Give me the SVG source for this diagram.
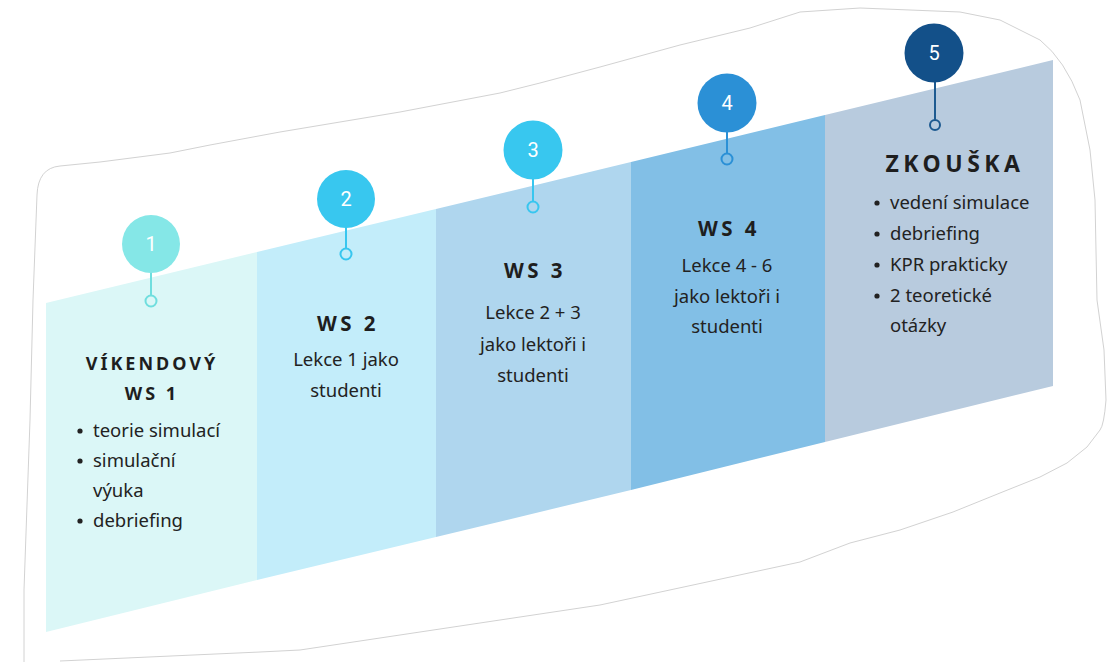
<svg xmlns="http://www.w3.org/2000/svg" width="1115" height="662" viewBox="0 0 1115 662">
<style>
.t{font-family:"Noto Sans","Liberation Sans",sans-serif;font-size:18.5px;fill:#222;}
.c{text-anchor:middle;}
.h{font-family:"Noto Sans","Liberation Sans",sans-serif;font-size:18px;font-weight:bold;letter-spacing:3px;fill:#1e1e1e;text-anchor:middle;}
.w{font-size:20.5px;letter-spacing:3.5px;}
.n{font-family:"Roboto","Liberation Sans",sans-serif;font-size:20px;fill:#fff;text-anchor:middle;}
.b{fill:#222;}
</style>
<rect width="1115" height="662" fill="#fff"/>
<path id="blob" d="M24,662 L24,590 L30,420 L33,300 L37,195 Q38,168 60,166 L100,162 L170,153 L210,145 L280,132 L400,112 L500,93 L540,83 L600,67 L680,45 L750,28 L800,12 L860,8 L960,12 L1000,20 L1040,40 Q1065,60 1080,100 L1090,150 L1095,200 L1097,300 L1104,350 L1106,400 Q1104,425 1100,430 L1087,447 L1067,463 L1040,477 L1000,493 L953,512 L900,530 L850,543 L800,562 L600,605 L300,650 L260,652 L60,661" fill="none" stroke="#d2d2d2" stroke-width="1"/>

<g id="node1">
<polygon points="46,303 257,252 257,580 46,632" fill="#dbf7f7"/>
<line x1="151" y1="270" x2="151" y2="296" stroke="#6fdede" stroke-width="2"/>
<circle cx="151" cy="244" r="29" fill="#85e7e7"/>
<circle cx="151" cy="301" r="5.5" fill="#dbf7f7" stroke="#6fdede" stroke-width="2"/>
<text class="n" x="151" y="251">1</text>
<text class="h" x="152" y="370">VÍKENDOVÝ</text>
<text class="h" x="152" y="400">WS 1</text>
<circle class="b" cx="80" cy="431" r="2.6"/>
<text class="t" x="93" y="437">teorie simulací</text>
<circle class="b" cx="80" cy="461" r="2.6"/>
<text class="t" x="93" y="467">simulační</text>
<text class="t" x="93" y="497">výuka</text>
<circle class="b" cx="80" cy="521" r="2.6"/>
<text class="t" x="93" y="527">debriefing</text>
</g>

<g id="node2">
<polygon points="257,252 436,209 436,537 257,580" fill="#c3edfa"/>
<line x1="346" y1="225" x2="346" y2="249" stroke="#38c6ef" stroke-width="2"/>
<circle cx="346" cy="199" r="29" fill="#38c7ef"/>
<circle cx="346" cy="254" r="5.5" fill="#c3edfa" stroke="#38c6ef" stroke-width="2"/>
<text class="n" x="346" y="206">2</text>
<text class="h w" x="348" y="331">WS 2</text>
<text class="t c" x="346" y="366">Lekce 1 jako</text>
<text class="t c" x="346" y="397">studenti</text>
</g>

<g id="node3">
<polygon points="436,209 631,162 631,490 436,537" fill="#afd6ee"/>
<line x1="533" y1="178" x2="533" y2="202" stroke="#38c6ef" stroke-width="2"/>
<circle cx="533" cy="150" r="29.5" fill="#38c7ef"/>
<circle cx="533" cy="207" r="5.5" fill="#afd6ee" stroke="#38c6ef" stroke-width="2"/>
<text class="n" x="533" y="157">3</text>
<text class="h w" x="535" y="278">WS 3</text>
<text class="t c" x="533" y="319">Lekce 2 + 3</text>
<text class="t c" x="533" y="351">jako lektoři i</text>
<text class="t c" x="533" y="382">studenti</text>
</g>

<g id="node4">
<polygon points="631,162 825,115 825,442 631,490" fill="#82bfe6"/>
<line x1="727" y1="131" x2="727" y2="154" stroke="#2b90d6" stroke-width="2"/>
<circle cx="727" cy="103" r="29.5" fill="#2b90d6"/>
<circle cx="727" cy="159" r="5.5" fill="#82bfe6" stroke="#2b90d6" stroke-width="2"/>
<text class="n" x="727" y="110">4</text>
<text class="h w" x="729" y="236">WS 4</text>
<text class="t c" x="727" y="272">Lekce 4 - 6</text>
<text class="t c" x="727" y="303">jako lektoři i</text>
<text class="t c" x="727" y="333">studenti</text>
</g>

<g id="node5">
<polygon points="825,115 1053,60 1053,386 825,442" fill="#b8cbde"/>
<line x1="935" y1="81" x2="935" y2="120" stroke="#1d5a90" stroke-width="2"/>
<circle cx="934" cy="53" r="29.5" fill="#135089"/>
<circle cx="935" cy="125" r="5" fill="#b8cbde" stroke="#1d5a90" stroke-width="2"/>
<text class="n" x="934" y="60">5</text>
<text class="h" x="955" y="172" style="font-size:23px;letter-spacing:4.5px">ZKOUŠKA</text>
<circle class="b" cx="877" cy="203" r="2.6"/>
<text class="t" x="890" y="209">vedení simulace</text>
<circle class="b" cx="877" cy="234" r="2.6"/>
<text class="t" x="890" y="240">debriefing</text>
<circle class="b" cx="877" cy="265" r="2.6"/>
<text class="t" x="890" y="271">KPR prakticky</text>
<circle class="b" cx="877" cy="296" r="2.6"/>
<text class="t" x="890" y="302">2 teoretické</text>
<text class="t" x="890" y="332">otázky</text>
</g>
<g id="connectors"/>
</svg>
